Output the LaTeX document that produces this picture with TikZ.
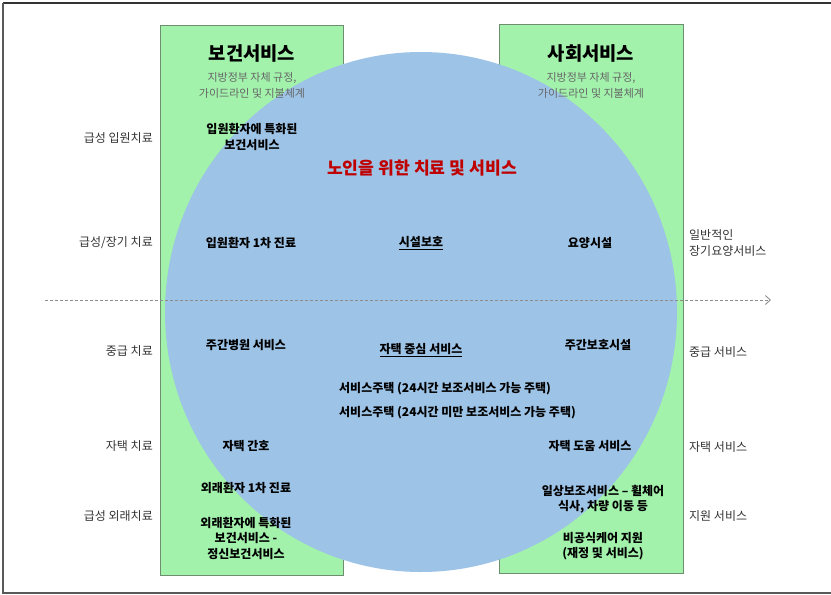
\documentclass[tikz,border=0pt]{standalone}
\usepackage{fontspec}
\setmainfont{Noto Sans CJK KR}
\usetikzlibrary{arrows.meta}
\definecolor{boxgreen}{HTML}{A2F2AC}
\definecolor{boxedge}{HTML}{6E8E70}
\definecolor{circblue}{HTML}{9DC3E6}
\definecolor{titlered}{HTML}{C00000}
\definecolor{sidegray}{HTML}{333333}
\tikzset{
  x=1pt,y=-1pt,
  greenbox/.style={draw=boxedge,fill=boxgreen,line width=0.8pt},
  side/.style={font=\fontsize{12}{13}\selectfont,text=sidegray,inner sep=0pt},
  sideL/.style={side,anchor=east},
  sideR/.style={side,anchor=west,align=left},
  item/.style={font=\bfseries\fontsize{12}{15.5}\selectfont,align=center,inner sep=0pt},
  head/.style={font=\bfseries\fontsize{18.8}{20}\selectfont,inner sep=0pt},
  sub/.style={font=\fontsize{11}{16}\selectfont,text=black!60,align=center,inner sep=0pt}
}
\begin{document}
\begin{tikzpicture}
\useasboundingbox (0,0) rectangle (831,595);
% outer frame
\draw[line width=2pt,black!80] (3,3) -- (834,3);
\draw[line width=1.5pt,black!65] (3,3) -- (3,593) -- (834,593);
% boxes
\path[greenbox] (160,25) rectangle (343,575);
\path[greenbox] (499,24) rectangle (683,573);
% circle
\fill[circblue] (421,312) ellipse [x radius=256, y radius=260];
% dashed arrow
\coordinate (arrS) at (45,300);
\coordinate (arrE) at (771,300);
\draw[black!45,line width=0.9pt,dash pattern=on 3pt off 2pt,-{Straight Barb[length=5pt,width=9pt]}] (arrS) -- (arrE);
% headers
\node[head] (h1) at (252,53) {보건서비스};
\node[sub] (s1) at (252,85) {지방정부 자체 규정,\\가이드라인 및 지불체계};
\node[head] (h2) at (591,53) {사회서비스};
\node[sub] (s2) at (591,85) {지방정부 자체 규정,\\가이드라인 및 지불체계};
% title
\node[font=\bfseries\fontsize{17.2}{18}\selectfont,text=titlered,inner sep=0pt] (t) at (422,168) {노인을 위한 치료 및 서비스};
% left labels
\node[sideL] (l1) at (153,138) {급성 입원치료};
\node[sideL] (l2) at (153,243) {급성/장기 치료};
\node[sideL] (l3) at (153,351) {중급 치료};
\node[sideL] (l4) at (153,446) {자택 치료};
\node[sideL] (l5) at (153,516) {급성 외래치료};
% right labels
\node[sideR,font=\fontsize{12}{16}\selectfont] (r1) at (689,243) {일반적인\\장기요양서비스};
\node[sideR] (r2) at (689,352) {중급 서비스};
\node[sideR] (r3) at (689,447) {자택 서비스};
\node[sideR] (r4) at (689,516) {지원 서비스};
% health column
\node[item] (a1) at (252,137) {입원환자에 특화된\\보건서비스};
\node[item] (a2) at (251,243) {입원환자 1차 진료};
\node[item] (a3) at (246,345) {주간병원 서비스};
\node[item] (a4) at (246,446) {자택 간호};
\node[item] (a5) at (246,488) {외래환자 1차 진료};
\node[item] (a6) at (246,538) {외래환자에 특화된\\보건서비스 -\\정신보건서비스};
% middle
\node[item] (m1) at (421,243) {\underline{시설보호}};
\node[item] (m2) at (421,350) {\underline{자택 중심 서비스}};
\node[item,anchor=west] (m3) at (339,389) {서비스주택 (24시간 보조서비스 가능 주택)};
\node[item,anchor=west] (m4) at (339,413) {서비스주택 (24시간 미만 보조서비스 가능 주택)};
% social column
\node[item] (b1) at (590,243) {요양시설};
\node[item] (b2) at (598,345) {주간보호시설};
\node[item] (b3) at (590,446) {자택 도움 서비스};
\node[item] (b4) at (603,499) {일상보조서비스 – 휠체어\\식사, 차량 이동 등};
\node[item] (b5) at (603,546) {비공식케어 지원\\(재정 및 서비스)};
\end{tikzpicture}
\end{document}
